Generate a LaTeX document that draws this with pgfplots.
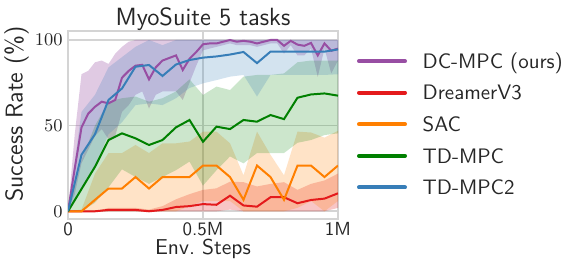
\documentclass[border=0pt]{standalone}
\usepackage{pgfplots}
\pgfplotsset{compat=1.18}
\usepackage{pgfplotstable}
\usepgfplotslibrary{fillbetween}
\definecolor{cpurple}{HTML}{984EA3}
\definecolor{cred}{HTML}{E41A1C}
\definecolor{corange}{HTML}{FF7F00}
\definecolor{cgreen}{HTML}{008000}
\definecolor{cblue}{HTML}{377EB8}
\definecolor{ctext}{HTML}{262626}
\definecolor{cgrid}{HTML}{D4D4D4}

\pgfplotstableread{
x m lo hi
0 0 0 0
0.025 25 10 45
0.05 49 28 80
0.075 57 36 82
0.1 61 44 87
0.125 64 48 88
0.15 63 42 86
0.175 65 44 92
0.2 78 58 96
0.225 82 62 99
0.25 85 68 100
0.275 85.5 70 100
0.3 77 60 100
0.325 84 68 100
0.35 88 70 100
0.375 89.5 70 100
0.4 91 70 100
0.425 82.5 65 100
0.45 89 75 100
0.475 93 85 100
0.5 97.5 94 100
0.525 98 95 100
0.55 98 96 100
0.575 99 97 100
0.6 100 98 100
0.625 99 97 100
0.65 99.5 97 100
0.675 99 97 100
0.7 98 96 100
0.725 99 97 100
0.75 100 98 100
0.775 100 98 100
0.8 96.6 92 100
0.825 99.5 97 100
0.85 97.3 91 100
0.875 96.6 91 100
0.9 98.3 95 100
0.925 91 78.5 100
0.95 98 95 100
0.975 93.7 80.5 100
1.0 95 88 100
}\dcmpc

\pgfplotstableread{
x m lo hi
0 0 0 0
0.05 0 0 0
0.1 0 0 0
0.15 0.8 0 2
0.2 0.8 0 2
0.25 0.8 0 2
0.3 0 0 1
0.35 0.8 0 3
0.4 2.5 0 7
0.45 3 0 10
0.5 4.2 0 12.5
0.55 3.8 0 13.4
0.6 9.1 1 17.3
0.65 3.4 0 17
0.7 2.7 0 14.5
0.75 8.2 0 16
0.8 8.2 0 17
0.85 4.7 0 12.5
0.9 6.6 0 16
0.95 7.4 0 18
1.0 10.5 2 22
}\dreamer

\pgfplotstableread{
x m lo hi
0 0 0 0
0.05 0 0 1
0.1 6.7 0 22
0.15 13.3 0 34
0.2 13.3 0 34
0.25 20 0 38.7
0.3 13.3 0 34
0.35 20 0 39.7
0.4 20 0 39.7
0.45 20 3 40.7
0.5 26.7 6 46.5
0.55 26.7 6 46.5
0.6 20 6 39.7
0.65 6.7 0 21
0.7 26.7 0 46.5
0.75 20 0 33
0.8 6.7 0 21
0.85 26.7 2 46.5
0.9 26.7 6 46
0.95 20 0 43
1.0 26.7 6 47
}\sac

\pgfplotstableread{
x m lo hi
0 0 0 0
0.05 13 0 30
0.1 26 5 50
0.15 41.6 14 64
0.2 45.5 24.5 66
0.25 42.6 20 67
0.3 38.7 16 64
0.35 41.6 20 66
0.4 49 24 70
0.45 53.3 29 77
0.5 40.6 15 67.9
0.55 49.4 24 72.8
0.6 48 32 70.8
0.65 53.3 28 78.6
0.7 52.3 34 79.6
0.75 56.2 34 79.6
0.8 53.8 34 80.5
0.85 66.3 40 87
0.9 68.2 41.6 88
0.95 68.8 44.5 88
1.0 67.5 45.5 88
}\tdmpc

\pgfplotstableread{
x m lo hi
0 0 0 0
0.05 33 12 58
0.1 45 26 68
0.15 65 45 84
0.2 71.7 52 90
0.25 84.4 62 96
0.3 85.4 63 100
0.35 79 62 97
0.4 85.7 66 100
0.45 88.3 72 100
0.5 89.7 74.7 100
0.55 90.4 76.6 100
0.6 91.5 78.6 100
0.65 93 79.6 100
0.7 86.5 67 100
0.75 93.2 79.6 100
0.8 93.2 79.6 100
0.85 93.2 79.6 100
0.9 93.2 79.6 100
0.95 93.2 79.6 100
1.0 94.5 80 100
}\tdmpctwo

\begin{document}
\begin{tikzpicture}
\begin{axis}[
  at={(0,0)}, anchor=south west,
  scale only axis, width=135bp, height=94bp,
  xmin=0, xmax=1, ymin=-4.5, ymax=105.25,
  xtick={0,0.5,1}, xticklabels={0,0.5M,1M},
  ytick={0,50,100},
  major tick length=0pt,
  grid=major,
  grid style={cgrid, line width=0.8bp},
  axis line style={cgrid, line width=0.8bp},
  xticklabel style={font=\fontsize{9.5}{11}\sffamily, text=ctext, anchor=base, yshift=-8.2bp, inner sep=0pt},
  yticklabel style={font=\fontsize{9.5}{11}\selectfont, text=ctext, anchor=east, xshift=-2.5bp, inner sep=0pt},
  title={MyoSuite 5 tasks},
  every axis title shift=0pt,
  title style={font=\fontsize{12.5}{14}\sffamily, text=ctext, at={(axis description cs:0.5,1)}, anchor=base, yshift=3bp, inner sep=0pt},
  xlabel={Env.\ Steps},
  xlabel style={font=\fontsize{10.8}{13}\sffamily, text=ctext, at={(axis description cs:0.5,0)}, anchor=base, yshift=-17.8bp, inner sep=0pt},
  ylabel={Success Rate (\%)},
  ylabel style={font=\fontsize{12.2}{14}\sffamily, text=ctext, at={(axis description cs:-0.1907,0.5585)}, anchor=center, inner sep=0pt},
  legend style={at={(axis description cs:1.0704,0.8782)}, anchor=north west, draw=none, fill=none,
    inner sep=0pt, outer sep=0pt, row sep=8.6bp,
    font=\fontsize{10.5}{12}\sffamily, text=ctext,
    nodes={inner sep=0pt, text height=7.2bp, text depth=0bp},
    /tikz/every odd column/.append style={column sep=7.85bp}},
  legend cell align=left,
  legend image code/.code={\draw[#1, line width=2bp, line cap=round] (0bp,0bp) -- (23bp,0bp);},
]
% bands
\addplot[draw=none, forget plot, name path=pu] table[x=x,y=hi]{\dcmpc};
\addplot[draw=none, forget plot, name path=pl] table[x=x,y=lo]{\dcmpc};
\addplot[fill=cpurple, fill opacity=0.3, draw=none, forget plot] fill between[of=pu and pl];
\addplot[draw=none, forget plot, name path=ru] table[x=x,y=hi]{\dreamer};
\addplot[draw=none, forget plot, name path=rl] table[x=x,y=lo]{\dreamer};
\addplot[fill=cred, fill opacity=0.25, draw=none, forget plot] fill between[of=ru and rl];
\addplot[draw=none, forget plot, name path=ou] table[x=x,y=hi]{\sac};
\addplot[draw=none, forget plot, name path=ol] table[x=x,y=lo]{\sac};
\addplot[fill=corange, fill opacity=0.22, draw=none, forget plot] fill between[of=ou and ol];
\addplot[draw=none, forget plot, name path=gu] table[x=x,y=hi]{\tdmpc};
\addplot[draw=none, forget plot, name path=gl] table[x=x,y=lo]{\tdmpc};
\addplot[fill=cgreen, fill opacity=0.2, draw=none, forget plot] fill between[of=gu and gl];
\addplot[draw=none, forget plot, name path=bu] table[x=x,y=hi]{\tdmpctwo};
\addplot[draw=none, forget plot, name path=bl] table[x=x,y=lo]{\tdmpctwo};
\addplot[fill=cblue, fill opacity=0.22, draw=none, forget plot] fill between[of=bu and bl];
% mean lines
\addplot[cpurple, line width=1bp] table[x=x,y=m]{\dcmpc};
\addlegendentry{DC-MPC (ours)}
\addplot[cred, line width=1bp] table[x=x,y=m]{\dreamer};
\addlegendentry{DreamerV3}
\addplot[corange, line width=1bp] table[x=x,y=m]{\sac};
\addlegendentry{SAC}
\addplot[cgreen, line width=1bp] table[x=x,y=m]{\tdmpc};
\addlegendentry{TD-MPC}
\addplot[cblue, line width=1bp] table[x=x,y=m]{\tdmpctwo};
\addlegendentry{TD-MPC2}
\end{axis}
\pgfresetboundingbox
\useasboundingbox (-34bp,-27.5bp) rectangle (255.5bp,109.5bp);
\end{tikzpicture}
\end{document}
